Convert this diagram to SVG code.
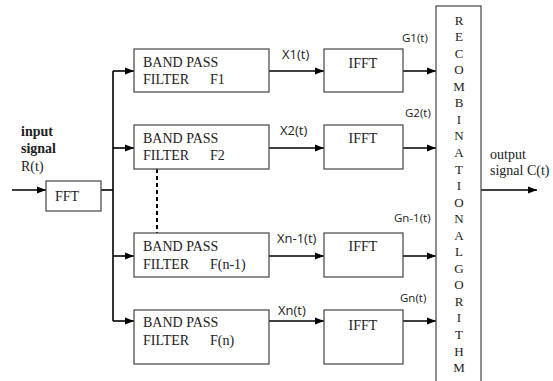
<svg xmlns="http://www.w3.org/2000/svg" width="553" height="381" viewBox="0 0 553 381">
<defs>
<marker id="ah" markerWidth="10" markerHeight="8" refX="9" refY="4" orient="auto" markerUnits="userSpaceOnUse"><path d="M0,0.5 L9,4 L0,7.5 z" fill="#000"/></marker>
<style>
.box{fill:#fff;stroke:#444;stroke-width:1.2}
.ln{stroke:#000;stroke-width:1.6;fill:none}
.arr{stroke:#000;stroke-width:1.6;fill:none;marker-end:url(#ah)}
.t{font-family:"Liberation Serif","Times New Roman",serif;font-size:14px;fill:#222}
.b{font-weight:bold}
.s{font-family:"Open Sans","Liberation Sans",sans-serif;font-size:13px;fill:#222}
.g{font-family:"Open Sans","Liberation Sans",sans-serif;font-size:11.5px;fill:#222}
.r{font-family:"Liberation Serif","Times New Roman",serif;font-size:13px;fill:#222;text-anchor:middle}
</style>
</defs>
<rect width="553" height="381" fill="#fff"/>
<g id="connectors">
<line class="arr" x1="12" y1="190" x2="46" y2="190"/>
<line class="ln" x1="101" y1="190" x2="113" y2="190"/>
<line class="ln" x1="113" y1="71" x2="113" y2="321"/>
<line class="arr" x1="113" y1="71" x2="134" y2="71"/>
<line class="arr" x1="113" y1="148" x2="134" y2="148"/>
<line class="arr" x1="113" y1="256" x2="134" y2="256"/>
<line class="arr" x1="113" y1="321" x2="134" y2="321"/>
<line x1="157" y1="169" x2="157" y2="233" stroke="#000" stroke-width="2" stroke-dasharray="4,3"/>
<line class="arr" x1="269" y1="71" x2="324" y2="71"/>
<line class="arr" x1="269" y1="148" x2="324" y2="148"/>
<line class="arr" x1="269" y1="256" x2="324" y2="256"/>
<line class="arr" x1="269" y1="321" x2="324" y2="321"/>
<line class="arr" x1="403" y1="71" x2="436" y2="71"/>
<line class="arr" x1="403" y1="148" x2="436" y2="148"/>
<line class="arr" x1="403" y1="256" x2="436" y2="256"/>
<line class="arr" x1="403" y1="321" x2="436" y2="321"/>
<line class="arr" x1="481" y1="190" x2="537" y2="190"/>
<text class="s" x="282" y="59">X1(t)</text>
<text class="s" x="280" y="135">X2(t)</text>
<text class="s" x="277" y="243">Xn-1(t)</text>
<text class="s" x="278" y="315">Xn(t)</text>
<text class="g" x="402" y="42">G1(t)</text>
<text class="g" x="405" y="117">G2(t)</text>
<text class="g" x="394" y="222">Gn-1(t)</text>
<text class="g" x="400" y="302">Gn(t)</text>
</g>
<g id="input">
<text class="t b" x="21" y="136">input</text>
<text class="t b" x="21" y="153">signal</text>
<text class="t" x="21" y="171">R(t)</text>
</g>
<g id="fft">
<rect class="box" x="46" y="181" width="55" height="30"/>
<text class="t" x="55" y="201">FFT</text>
</g>
<g id="bpf1">
<rect class="box" x="134" y="49" width="135" height="43"/>
<text class="t" x="143" y="67">BAND PASS</text>
<text class="t" x="143" y="84">FILTER<tspan x="210">F1</tspan></text>
</g>
<g id="bpf2">
<rect class="box" x="134" y="125" width="135" height="44"/>
<text class="t" x="143" y="143">BAND PASS</text>
<text class="t" x="143" y="160">FILTER<tspan x="210">F2</tspan></text>
</g>
<g id="bpfn1">
<rect class="box" x="134" y="233" width="135" height="44"/>
<text class="t" x="143" y="251">BAND PASS</text>
<text class="t" x="143" y="269">FILTER<tspan x="210">F(n-1)</tspan></text>
</g>
<g id="bpfn">
<rect class="box" x="134" y="310" width="135" height="54"/>
<text class="t" x="143" y="327">BAND PASS</text>
<text class="t" x="143" y="345">FILTER<tspan x="210">F(n)</tspan></text>
</g>
<g id="ifft1">
<rect class="box" x="324" y="49" width="79" height="43"/>
<text class="t" x="363" y="68" text-anchor="middle">IFFT</text>
</g>
<g id="ifft2">
<rect class="box" x="324" y="125" width="79" height="44"/>
<text class="t" x="363" y="143" text-anchor="middle">IFFT</text>
</g>
<g id="ifftn1">
<rect class="box" x="324" y="233" width="79" height="44"/>
<text class="t" x="363" y="251" text-anchor="middle">IFFT</text>
</g>
<g id="ifftn">
<rect class="box" x="324" y="310" width="79" height="54"/>
<text class="t" x="363" y="330" text-anchor="middle">IFFT</text>
</g>
<g id="recomb">
<rect class="box" x="436" y="6" width="45" height="380"/>
<text class="r" x="459"><tspan x="459" y="24.5">R</tspan><tspan x="459" y="41">E</tspan><tspan x="459" y="57.6">C</tspan><tspan x="459" y="74.2">O</tspan><tspan x="459" y="90.7">M</tspan><tspan x="459" y="107.3">B</tspan><tspan x="459" y="123.8">I</tspan><tspan x="459" y="140.4">N</tspan><tspan x="459" y="156.9">A</tspan><tspan x="459" y="173.5">T</tspan><tspan x="459" y="190">I</tspan><tspan x="459" y="206.6">O</tspan><tspan x="459" y="223.1">N</tspan><tspan x="459" y="239.7">A</tspan><tspan x="459" y="256.2">L</tspan><tspan x="459" y="272.8">G</tspan><tspan x="459" y="289.3">O</tspan><tspan x="459" y="305.9">R</tspan><tspan x="459" y="322.4">I</tspan><tspan x="459" y="339">T</tspan><tspan x="459" y="355.5">H</tspan><tspan x="459" y="372.1">M</tspan></text>
</g>
<g id="output">
<text class="t" x="490" y="159">output</text>
<text class="t" x="490" y="175">signal C(t)</text>
</g>
</svg>
